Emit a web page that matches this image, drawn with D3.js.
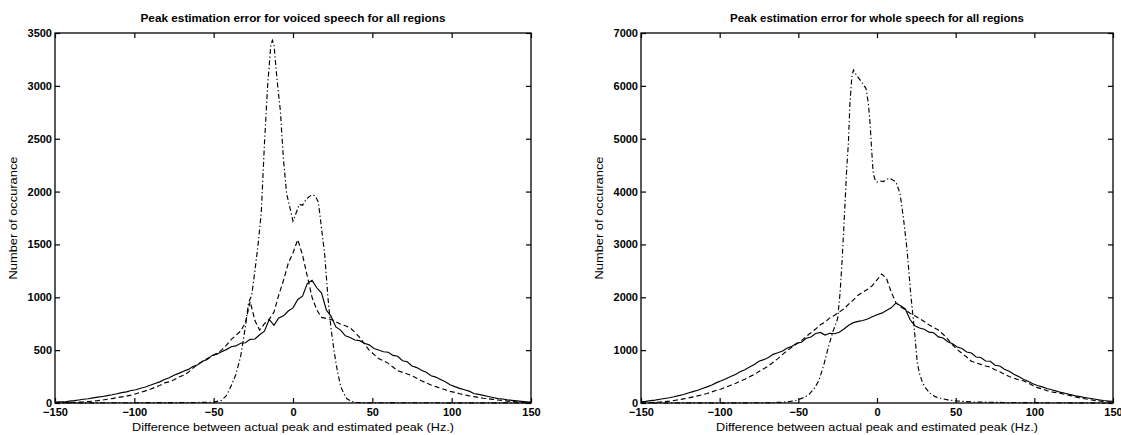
<!DOCTYPE html>
<html>
<head>
<meta charset="utf-8">
<script src="https://cdn.jsdelivr.net/npm/d3@7"></script>
<style>
  body { margin: 0; background: #fff; }
  svg text { font-family: "Liberation Sans", Arial, sans-serif; fill: #000; }
</style>
</head>
<body>
<svg id="chart" width="1121" height="435"></svg>
<script>
// histogram bins (Hz) used by the solid and dashed curves
const hz = d3.range(-150, 151, 3);

const xTicks = [-150, -100, -50, 0, 50, 100, 150];
const voicedTicks = [0, 500, 1000, 1500, 2000, 2500, 3000, 3500];
const wholeTicks = [0, 1000, 2000, 3000, 4000, 5000, 6000, 7000];

const voicedSolid = [
  8, 12, 10, 18, 22, 28, 35, 40, 48, 55,
  62, 70, 78, 88, 98, 105, 118, 125, 140, 152,
  168, 185, 200, 222, 238, 262, 280, 300, 318, 345,
  362, 395, 412, 450, 462, 485, 505, 532, 540, 565,
  570, 602, 605, 645, 680, 790, 735, 805, 825, 870,
  900, 980, 1010, 1130, 1160, 1090, 1040, 880, 820, 720,
  690, 635, 620, 596, 590, 565, 550, 515, 502, 485,
  480, 450, 442, 400, 390, 350, 335, 310, 290, 258,
  245, 222, 200, 172, 155, 138, 125, 112, 90, 82,
  72, 62, 52, 42, 38, 30, 25, 20, 16, 12,
  8
];
const voicedDashed = [
  0, 2, 3, 5, 6, 8, 10, 14, 18, 22,
  28, 35, 42, 50, 58, 65, 75, 88, 102, 115,
  130, 148, 165, 190, 200, 220, 245, 262, 290, 330,
  365, 395, 420, 445, 470, 500, 545, 600, 640, 680,
  760, 960, 780, 690, 750, 790, 860, 1020, 1160, 1320,
  1420, 1545, 1400, 1200, 1000, 880, 810, 800, 790, 770,
  745, 730, 710, 670, 620, 560, 500, 460, 420, 400,
  375, 340, 305, 290, 275, 258, 235, 210, 190, 170,
  155, 140, 125, 110, 100, 88, 78, 68, 60, 52,
  45, 40, 34, 28, 24, 18, 14, 10, 7, 4,
  2
];
const voicedDashDot = [
  [-150, 0], [-120, 2], [-90, 3], [-60, 5], [-50, 8], [-45, 25], [-42, 70], [-39, 160],
  [-36, 270], [-33, 440], [-30, 720], [-28, 950], [-26, 1020], [-24, 1250], [-22, 1500],
  [-20, 1800], [-18, 2450], [-16, 3000], [-14, 3380], [-13, 3430], [-12, 3390], [-10, 3050],
  [-8, 2770], [-6, 2300], [-4, 1980], [-2, 1850], [0, 1720], [2, 1800], [4, 1880], [6, 1870],
  [8, 1920], [10, 1950], [12, 1970], [14, 1960], [16, 1900], [18, 1650], [20, 1400],
  [22, 1000], [24, 700], [26, 480], [28, 300], [30, 160], [32, 90], [34, 40], [37, 15],
  [40, 6], [45, 3], [50, 2], [60, 3], [90, 2], [120, 1], [150, 0]
];

const wholeSolid = [
  25, 30, 45, 55, 70, 85, 100, 118, 140, 160,
  190, 215, 240, 275, 305, 340, 385, 420, 460, 500,
  540, 590, 630, 680, 730, 790, 820, 860, 920, 950,
  985, 1040, 1075, 1130, 1150, 1225, 1250, 1315, 1335, 1285,
  1320, 1310, 1340, 1400, 1470, 1520, 1545, 1560, 1590, 1630,
  1670, 1700, 1750, 1800, 1890, 1840, 1780, 1580, 1460, 1420,
  1395, 1340, 1330, 1250, 1230, 1160, 1120, 1060, 1030, 965,
  945, 870, 860, 795, 790, 715, 700, 640, 600, 545,
  500, 450, 410, 365, 330, 305, 275, 250, 225, 200,
  180, 160, 135, 120, 105, 90, 75, 60, 48, 38,
  30
];
const wholeDashed = [
  0, 3, 8, 12, 18, 25, 35, 48, 62, 78,
  95, 115, 135, 155, 180, 210, 240, 265, 300, 335,
  370, 410, 450, 495, 540, 595, 650, 700, 770, 840,
  920, 990, 1060, 1120, 1180, 1260, 1330, 1400, 1480, 1530,
  1610, 1660, 1720, 1780, 1870, 1950, 2040, 2100, 2150, 2220,
  2330, 2440, 2360, 2100, 1900, 1820, 1760, 1700, 1650, 1600,
  1540, 1480, 1430, 1380, 1300, 1210, 1100, 1010, 940, 870,
  790, 760, 730, 700, 680, 630, 590, 545, 500, 470,
  440, 420, 380, 330, 290, 265, 235, 210, 195, 180,
  160, 140, 115, 95, 80, 65, 50, 38, 28, 20,
  12
];
const wholeDashDot = [
  [-150, 0], [-100, 2], [-70, 5], [-60, 15], [-55, 30], [-50, 60], [-46, 110], [-43, 170],
  [-40, 270], [-37, 420], [-34, 700], [-31, 1050], [-28, 1350], [-25, 1600], [-23.5, 2075],
  [-22.4, 2580], [-21.4, 3145], [-20.3, 3780], [-19.3, 4410], [-18.2, 4910], [-17.2, 5670],
  [-16, 6170], [-15, 6300], [-13, 6200], [-10, 6080], [-7, 5950], [-5.5, 5670], [-4.4, 5290],
  [-3.4, 4790], [-2.4, 4345], [-1, 4200], [0, 4180], [2, 4200], [4, 4190], [6, 4230],
  [8, 4250], [10, 4220], [12, 4185], [14.6, 3967], [16.7, 3525], [18.9, 2957], [20, 2580],
  [21.4, 2075], [22.5, 1750], [24, 1300], [25.6, 760], [27, 560], [29, 380], [31, 280],
  [33.5, 190], [37, 120], [40, 90], [45, 60], [50, 40], [60, 20], [80, 10], [110, 5], [150, 0]
];

const svg = d3.select("#chart");

function drawPanel(opt) {
  const x = d3.scaleLinear().domain([-150, 150]).range([opt.left, opt.right]);
  const y = d3.scaleLinear().domain([0, opt.yMax]).range([403, 33]);
  const g = svg.append("g");
  const fmtX = d => d < 0 ? "\u2212" + Math.abs(d) : d;

  g.append("g")
    .attr("transform", "translate(0,403)")
    .call(d3.axisBottom(x).tickValues(xTicks).tickSize(-5).tickPadding(5).tickFormat(fmtX));
  g.append("g")
    .attr("transform", "translate(0,33)")
    .call(d3.axisTop(x).tickValues(xTicks).tickSize(-5).tickFormat(""));
  g.append("g")
    .attr("transform", `translate(${opt.left},0)`)
    .call(d3.axisLeft(y).tickValues(opt.yTicks).tickSize(-5).tickPadding(3).tickFormat(d3.format("d")));
  g.append("g")
    .attr("transform", `translate(${opt.right},0)`)
    .call(d3.axisRight(y).tickValues(opt.yTicks).tickSize(-5).tickFormat(""));

  g.selectAll(".domain").remove();
  g.selectAll(".tick line").attr("stroke", "#000").attr("stroke-width", 1.2);
  g.selectAll(".tick text")
    .style("font-size", "11px").style("font-weight", "bold").attr("fill", "#000");

  g.append("rect")
    .attr("x", opt.left).attr("y", 33)
    .attr("width", opt.right - opt.left).attr("height", 370)
    .attr("fill", "none").attr("stroke", "#000").attr("stroke-width", 1.3);

  const line = d3.line().x(d => x(d[0])).y(d => y(d[1]));
  const series = [
    { pts: hz.map((h, i) => [h, opt.solid[i]]), dash: null },
    { pts: hz.map((h, i) => [h, opt.dashed[i]]), dash: "5,3" },
    { pts: opt.dashDot, dash: "5,2.5,1.3,2.5" }
  ];
  series.forEach(s => {
    g.append("path")
      .attr("d", line(s.pts))
      .attr("fill", "none")
      .attr("stroke", "#000")
      .attr("stroke-width", 1.15)
      .attr("stroke-dasharray", s.dash);
  });

  const mid = (opt.left + opt.right) / 2;
  g.append("text")
    .attr("x", mid).attr("y", 22)
    .attr("text-anchor", "middle")
    .attr("textLength", opt.titleLen).attr("lengthAdjust", "spacingAndGlyphs")
    .style("font-size", "11px").style("font-weight", "bold")
    .text(opt.title);
  g.append("text")
    .attr("x", mid).attr("y", 431)
    .attr("text-anchor", "middle")
    .attr("textLength", 322).attr("lengthAdjust", "spacingAndGlyphs")
    .style("font-size", "11.5px")
    .text("Difference between actual peak and estimated peak (Hz.)");
  g.append("text")
    .attr("transform", `translate(${opt.left - 38},218) rotate(-90)`)
    .attr("text-anchor", "middle")
    .attr("textLength", 123).attr("lengthAdjust", "spacingAndGlyphs")
    .style("font-size", "11px")
    .text("Number of occurance");
}

drawPanel({
  left: 55, right: 531, yMax: 3500, yTicks: voicedTicks,
  solid: voicedSolid, dashed: voicedDashed, dashDot: voicedDashDot,
  title: "Peak estimation error for voiced speech for all regions", titleLen: 305
});
drawPanel({
  left: 641, right: 1113, yMax: 7000, yTicks: wholeTicks,
  solid: wholeSolid, dashed: wholeDashed, dashDot: wholeDashDot,
  title: "Peak estimation error for whole speech for all regions", titleLen: 294
});
</script>
</body>
</html>
